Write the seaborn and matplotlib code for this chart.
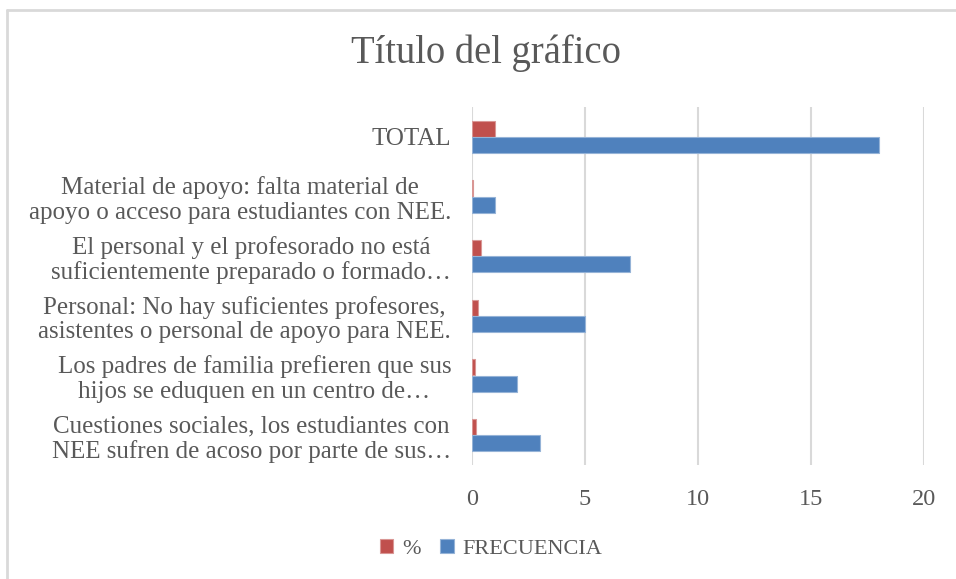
import pandas as pd
import matplotlib
matplotlib.use("Agg")
import matplotlib.pyplot as plt
import seaborn as sns
from matplotlib.lines import Line2D

# data (top to bottom as in the chart)
categorias = [
    "TOTAL",
    "Material de apoyo: falta material de\napoyo o acceso para estudiantes con NEE.",
    "El personal y el profesorado no está\nsuficientemente preparado o formado…",
    "Personal: No hay suficientes profesores,\nasistentes o personal de apoyo para NEE.",
    "Los padres de familia prefieren que sus\nhijos se eduquen en un centro de…",
    "Cuestiones sociales, los estudiantes con\nNEE sufren de acoso por parte de sus…",
]
frecuencia = [18, 1, 7, 5, 2, 3]
porcentaje = [1.0, 0.056, 0.389, 0.278, 0.111, 0.167]
series = ["%", "FRECUENCIA"]
colores = ["#C0504D", "#4F81BD"]

texto = "#595959"
sns.set_style("white")
plt.rcParams["font.family"] = ["Liberation Serif", "DejaVu Serif"]

df = pd.concat([
    pd.DataFrame({"categoria": categorias, "valor": porcentaje, "serie": "%"}),
    pd.DataFrame({"categoria": categorias, "valor": frecuencia, "serie": "FRECUENCIA"}),
])

fig = plt.figure(figsize=(9.56, 5.79), dpi=100)
ax = fig.add_axes([472 / 956, 114 / 579, 452 / 956, 358 / 579])

sns.barplot(data=df, x="valor", y="categoria", hue="serie", order=categorias,
            hue_order=series, palette=colores, saturation=1, orient="h",
            width=0.54, gap=0, errorbar=None, ax=ax, linewidth=0.8)

# light outline like the original
for p in ax.patches:
    fc = p.get_facecolor()
    p.set_edgecolor([min(1, c * 0.6 + 0.4) for c in fc[:3]])

handles, labels = ax.get_legend_handles_labels()
ax.get_legend().remove()

ax.set_xlim(0, 20)
ax.set_xticks([0, 5, 10, 15, 20])
ax.set_xlabel("")
ax.set_ylabel("")
ax.grid(axis="x", color="#D9D9D9", linewidth=1.5)
ax.set_axisbelow(True)
for s in ax.spines.values():
    s.set_visible(False)
ax.tick_params(axis="x", length=0, pad=17, labelsize=17.5, labelcolor=texto)
ax.tick_params(axis="y", length=0, pad=15, labelsize=18, labelcolor=texto)
for t in ax.get_yticklabels():
    t.set_multialignment("center")
    t.set_linespacing(1.15)

fig.text(486 / 956, 1 - 53 / 579, "Título del gráfico", ha="center", va="center",
         fontsize=27.8, color=texto)

fig.legend(handles, labels, loc="center", bbox_to_anchor=(491 / 956, 1 - 549 / 579),
           ncol=2, frameon=False, fontsize=16, handlelength=0.6, handleheight=0.6,
           handletextpad=0.4, columnspacing=0.9, labelcolor=texto)

# chart border
fig.add_artist(Line2D([7 / 956, 1], [1 - 10 / 579, 1 - 10 / 579], color="#D9D9D9",
                      linewidth=2, transform=fig.transFigure))
fig.add_artist(Line2D([7 / 956, 7 / 956], [0, 1 - 10 / 579], color="#D9D9D9",
                      linewidth=2, transform=fig.transFigure))

fig.savefig("out.png", dpi=100)
